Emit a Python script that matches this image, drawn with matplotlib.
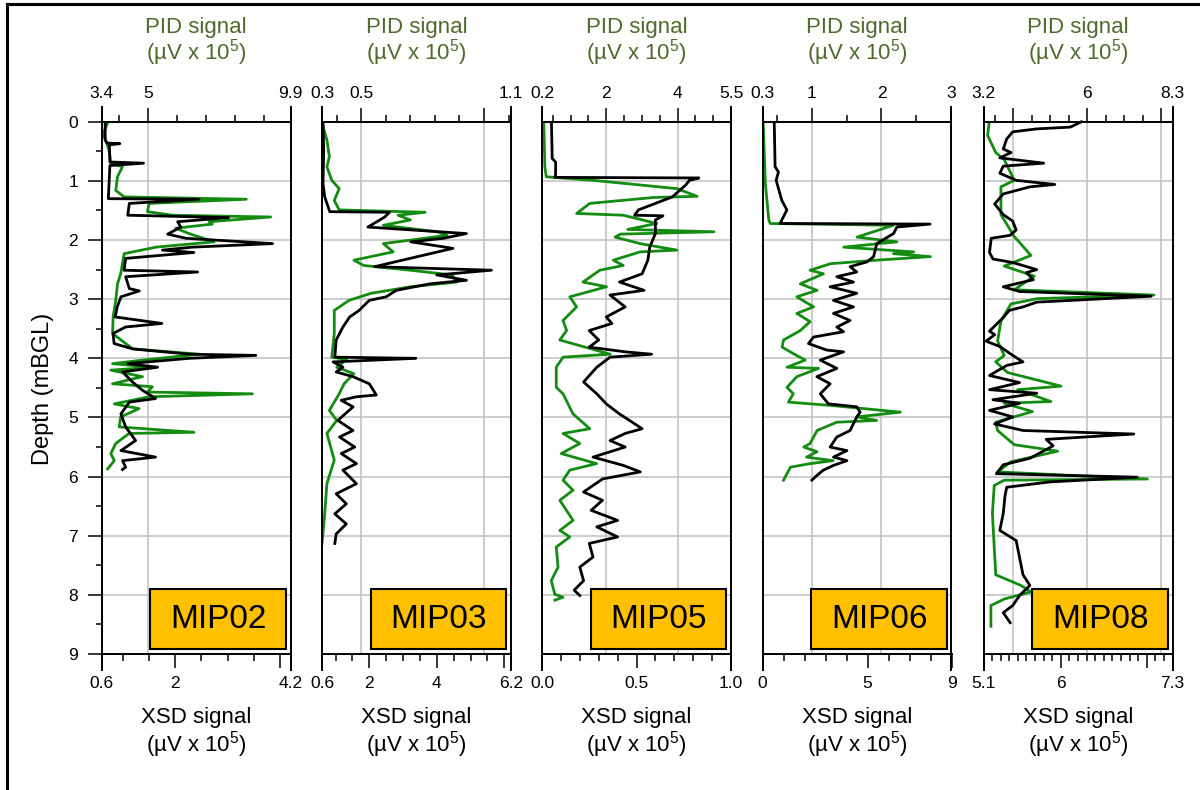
import numpy as np
import matplotlib
matplotlib.use("Agg")
import matplotlib.pyplot as plt
from matplotlib.patches import Rectangle
from matplotlib.lines import Line2D
from matplotlib.ticker import FixedLocator, FixedFormatter

plt.rcParams['font.family'] = ['Liberation Sans', 'DejaVu Sans']
plt.rcParams['mathtext.fontset'] = 'custom'
plt.rcParams['mathtext.rm'] = 'Liberation Sans'

# ---------------- data (depth in mBGL, signal in uV x 1e5) ----------------
names = ['MIP02', 'MIP03', 'MIP05', 'MIP06', 'MIP08']

# MIP02
mip02_xsd_depth = [0.02, 0.31, 0.36, 0.37, 0.39, 0.68, 0.70, 0.74, 0.93, 1.30, 1.31, 1.38, 1.58, 1.62, 1.69, 1.78, 1.90, 1.97,
                   2.06, 2.12, 2.17, 2.21, 2.31, 2.51, 2.54, 2.62, 2.82, 2.86, 2.96, 3.13, 3.30, 3.41, 3.47, 3.58, 3.75, 3.84,
                   3.93, 3.95, 4.00, 4.09, 4.15, 4.23, 4.40, 4.54, 4.68, 4.74, 4.94, 5.16, 5.39, 5.56, 5.67, 5.73, 5.84, 5.88]
mip02_xsd = [0.67, 0.67, 0.71, 0.95, 0.75, 0.76, 1.40, 0.76, 0.75, 0.73, 2.46, 1.13, 1.10, 3.02, 2.05, 2.11, 1.86, 2.21,
             3.86, 2.33, 1.76, 2.36, 1.06, 1.03, 2.43, 1.06, 1.13, 1.32, 0.97, 0.90, 0.86, 1.75, 1.06, 0.82, 0.84, 1.19,
             2.27, 3.54, 2.27, 1.10, 1.67, 1.00, 1.19, 1.38, 1.63, 1.13, 0.97, 1.06, 1.25, 0.97, 1.63, 1.00, 1.06, 1.00]
mip02_pid_depth = [0.02, 0.20, 0.48, 0.70, 0.76, 0.93, 1.16, 1.27, 1.31, 1.38, 1.52, 1.58, 1.61, 1.69, 1.73, 1.80, 1.89, 2.03,
                   2.12, 2.23, 2.57, 2.74, 3.02, 3.30, 3.58, 3.84, 3.93, 4.03, 4.09, 4.15, 4.20, 4.31, 4.43, 4.48, 4.57, 4.60,
                   4.65, 4.77, 4.85, 4.99, 5.16, 5.25, 5.27, 5.44, 5.61, 5.73, 5.87]
mip02_pid = [3.61, 3.46, 3.66, 3.72, 4.12, 3.95, 3.89, 4.18, 8.38, 5.04, 4.98, 5.84, 9.22, 7.10, 7.21, 5.95, 6.41, 7.27,
             5.27, 4.18, 4.06, 3.95, 3.89, 3.80, 3.78, 4.47, 6.76, 4.81, 3.78, 5.15, 3.72, 4.81, 3.78, 5.15, 4.98, 8.59,
             5.04, 3.84, 4.69, 4.06, 4.01, 6.58, 4.35, 3.89, 3.72, 3.84, 3.61]

# MIP03
mip03_xsd_depth = [0.02, 0.48, 1.04, 1.27, 1.52, 1.53, 1.61, 1.78, 1.89, 1.97, 2.03, 2.14, 2.45, 2.51, 2.59, 2.68, 2.74,
                   2.85, 2.96, 3.02, 3.19, 3.30, 3.47, 3.69, 3.98, 4.00, 4.06, 4.15, 4.23, 4.31, 4.43, 4.62, 4.65, 4.71,
                   4.82, 5.05, 5.22, 5.33, 5.50, 5.61, 5.78, 5.89, 6.12, 6.29, 6.46, 6.63, 6.80, 6.97, 7.13]
mip03_xsd = [0.63, 0.65, 0.63, 0.68, 0.83, 2.60, 2.46, 1.96, 4.88, 4.20, 3.23, 4.48, 2.16, 5.62, 4.00, 4.88, 3.80,
             2.80, 2.50, 2.00, 1.70, 1.42, 1.22, 1.02, 0.98, 3.38, 0.93, 1.22, 1.02, 1.52, 2.00, 2.21, 1.62, 1.17,
             1.52, 1.07, 1.52, 1.12, 1.57, 1.17, 1.62, 1.22, 1.62, 1.02, 1.32, 0.98, 1.32, 1.02, 0.98]
mip03_pid_depth = [0.02, 0.31, 0.59, 0.76, 0.99, 1.13, 1.33, 1.49, 1.53, 1.58, 1.66, 1.75, 1.86, 1.92, 2.06, 2.20, 2.34,
                   2.43, 2.51, 2.59, 2.71, 2.79, 2.90, 3.02, 3.19, 3.58, 3.98, 4.02, 4.15, 4.26, 4.43, 4.60, 4.88, 5.05,
                   5.27, 5.72, 6.12, 6.68, 7.13]
mip03_pid = [0.34, 0.36, 0.37, 0.36, 0.38, 0.41, 0.39, 0.41, 0.76, 0.65, 0.70, 0.59, 0.81, 0.85, 0.59, 0.63, 0.47,
             0.51, 0.70, 0.87, 0.89, 0.70, 0.54, 0.45, 0.39, 0.39, 0.38, 0.44, 0.40, 0.47, 0.43, 0.41, 0.37, 0.40,
             0.36, 0.39, 0.36, 0.35, 0.34]

# MIP05
mip05_xsd_depth = [0.02, 0.62, 0.68, 0.90, 0.94, 0.95, 0.99, 1.07, 1.27, 1.49, 1.58, 1.59, 1.66, 1.89, 2.12, 2.34, 2.57,
                   2.71, 2.85, 2.93, 3.13, 3.30, 3.41, 3.53, 3.69, 3.81, 3.89, 3.93, 3.98, 4.15, 4.40, 4.60, 4.77, 4.94,
                   5.19, 5.27, 5.39, 5.50, 5.67, 5.81, 5.92, 6.04, 6.26, 6.40, 6.57, 6.74, 6.85, 7.02, 7.13, 7.36, 7.53,
                   7.76, 7.92, 8.01]
mip05_xsd = [0.05, 0.054, 0.072, 0.072, 0.067, 0.83, 0.78, 0.76, 0.69, 0.51, 0.49, 0.64, 0.60, 0.60, 0.57, 0.56, 0.53,
             0.41, 0.54, 0.36, 0.44, 0.34, 0.37, 0.25, 0.30, 0.25, 0.44, 0.58, 0.36, 0.29, 0.22, 0.29, 0.34, 0.41,
             0.53, 0.44, 0.36, 0.44, 0.27, 0.43, 0.52, 0.32, 0.22, 0.32, 0.26, 0.40, 0.29, 0.40, 0.25, 0.27, 0.20,
             0.22, 0.17, 0.20]
mip05_pid_depth = [0.02, 0.76, 0.93, 0.99, 1.13, 1.26, 1.28, 1.38, 1.55, 1.58, 1.72, 1.82, 1.86, 1.90, 1.95, 2.06, 2.17,
                   2.20, 2.34, 2.43, 2.51, 2.71, 2.79, 2.96, 3.13, 3.36, 3.53, 3.69, 3.93, 3.98, 4.15, 4.49, 4.60, 4.94,
                   5.19, 5.27, 5.44, 5.61, 5.78, 5.89, 6.06, 6.23, 6.40, 6.74, 6.91, 7.02, 7.19, 7.53, 7.76, 7.99, 8.04,
                   8.09]
mip05_pid = [0.25, 0.28, 0.32, 1.64, 3.98, 4.55, 3.33, 1.54, 1.17, 2.48, 3.42, 2.60, 5.02, 2.40, 2.25, 2.95, 3.98,
             2.95, 2.20, 2.48, 1.82, 1.35, 2.01, 0.98, 1.17, 0.79, 0.89, 0.70, 2.11, 0.79, 0.60, 0.60, 0.79, 1.07,
             1.54, 0.79, 1.26, 0.74, 1.73, 0.98, 0.79, 1.07, 0.70, 1.07, 0.70, 0.98, 0.60, 0.65, 0.46, 0.56, 0.79,
             0.56]

# MIP06
mip06_xsd_depth = [0.02, 0.76, 0.85, 0.99, 1.13, 1.33, 1.49, 1.66, 1.72, 1.73, 1.78, 1.89, 2.06, 2.28, 2.37, 2.45, 2.54,
                   2.62, 2.71, 2.79, 2.90, 3.02, 3.13, 3.24, 3.36, 3.47, 3.55, 3.64, 3.75, 3.86, 3.89, 4.03, 4.17, 4.31,
                   4.43, 4.60, 4.77, 4.82, 4.91, 4.99, 5.22, 5.33, 5.50, 5.56, 5.67, 5.73, 5.81, 5.89, 5.98, 6.06]
mip06_xsd = [0.56, 0.60, 0.76, 0.65, 0.76, 0.92, 1.16, 0.92, 0.84, 7.98, 6.40, 6.24, 5.44, 5.29, 4.97, 4.17, 4.49,
             3.54, 4.33, 3.22, 4.49, 3.38, 4.33, 3.38, 4.17, 3.54, 3.86, 2.43, 2.19, 3.06, 3.86, 2.75, 3.54, 2.59,
             3.22, 2.75, 3.14, 4.49, 4.65, 4.49, 4.17, 3.54, 3.22, 4.02, 3.38, 4.02, 3.38, 2.90, 2.59, 2.35]
mip06_pid_depth = [0.02, 1.04, 1.66, 1.72, 1.75, 1.95, 2.03, 2.12, 2.20, 2.23, 2.28, 2.34, 2.40, 2.51, 2.57, 2.74, 2.85,
                   2.96, 3.13, 3.24, 3.38, 3.53, 3.69, 3.81, 3.92, 4.03, 4.15, 4.17, 4.31, 4.49, 4.60, 4.74, 4.80, 4.91,
                   4.99, 5.05, 5.08, 5.22, 5.44, 5.50, 5.58, 5.67, 5.73, 5.78, 5.84, 6.06]
mip06_pid = [0.31, 0.34, 0.39, 0.41, 2.17, 1.65, 2.22, 1.46, 2.46, 2.17, 2.70, 1.93, 1.27, 0.98, 1.17, 0.84, 1.08,
             0.79, 1.03, 0.79, 0.98, 0.84, 0.60, 0.58, 0.74, 0.91, 0.65, 1.10, 0.79, 0.65, 0.74, 0.67, 1.31, 2.27,
             1.65, 1.93, 1.36, 1.08, 0.98, 0.89, 1.08, 0.93, 1.31, 0.98, 0.70, 0.60]

# MIP08
mip08_xsd_depth = [0.00, 0.09, 0.12, 0.17, 0.29, 0.46, 0.52, 0.61, 0.70, 0.75, 0.87, 0.99, 1.06, 1.10, 1.22, 1.39, 1.57,
                   1.68, 1.83, 1.92, 1.97, 2.21, 2.32, 2.38, 2.50, 2.55, 2.67, 2.79, 2.87, 2.95, 3.05, 3.13, 3.19, 3.31,
                   3.54, 3.60, 3.71, 3.80, 3.95, 4.06, 4.12, 4.29, 4.41, 4.53, 4.59, 4.70, 4.76, 4.88, 4.99, 5.11, 5.22,
                   5.28, 5.37, 5.48, 5.69, 5.80, 5.95, 6.01, 6.09, 6.18, 6.33, 6.62, 6.91, 7.08, 7.37, 7.66, 7.84, 8.01,
                   8.18, 8.30, 8.47]
mip08_xsd = [6.24, 6.11, 5.72, 5.44, 5.37, 5.33, 5.42, 5.29, 5.80, 5.33, 5.29, 5.48, 5.93, 5.64, 5.33, 5.23, 5.33,
             5.44, 5.48, 5.41, 5.19, 5.17, 5.21, 5.44, 5.72, 5.60, 5.68, 5.33, 5.52, 7.05, 5.72, 5.56, 5.40, 5.33,
             5.17, 5.23, 5.13, 5.29, 5.44, 5.56, 5.37, 5.17, 5.52, 5.17, 5.72, 5.21, 5.52, 5.17, 5.44, 5.23, 5.56,
             6.85, 5.83, 5.91, 5.64, 5.33, 5.25, 6.89, 5.87, 5.37, 5.35, 5.33, 5.29, 5.48, 5.52, 5.56, 5.64, 5.52,
             5.44, 5.33, 5.41]
mip08_pid_depth = [0.03, 0.23, 0.52, 0.64, 0.99, 1.10, 1.57, 1.94, 2.26, 2.44, 2.61, 2.84, 2.93, 2.99, 3.08, 3.37, 3.71,
                   3.95, 4.06, 4.24, 4.47, 4.53, 4.73, 4.76, 4.90, 5.08, 5.22, 5.46, 5.57, 5.75, 5.92, 6.04, 6.06, 6.15,
                   6.62, 7.20, 7.66, 7.84, 7.95, 8.07, 8.18, 8.53]
mip08_pid = [3.35, 3.31, 3.53, 3.76, 4.03, 3.67, 3.67, 4.03, 4.48, 3.76, 4.57, 4.03, 7.80, 4.66, 3.94, 3.67, 3.58,
             3.76, 3.53, 3.85, 5.29, 4.12, 5.02, 3.76, 4.52, 3.53, 3.58, 4.03, 5.20, 3.94, 3.58, 7.62, 3.76, 3.49,
             3.44, 3.49, 3.53, 4.21, 4.48, 3.76, 3.40, 3.40]

xsd_depths = [mip02_xsd_depth, mip03_xsd_depth, mip05_xsd_depth, mip06_xsd_depth, mip08_xsd_depth]
xsd_values = [mip02_xsd, mip03_xsd, mip05_xsd, mip06_xsd, mip08_xsd]
pid_depths = [mip02_pid_depth, mip03_pid_depth, mip05_pid_depth, mip06_pid_depth, mip08_pid_depth]
pid_values = [mip02_pid, mip03_pid, mip05_pid, mip06_pid, mip08_pid]

# axis ranges and ticks (top = PID, bottom = XSD)
pid_lims = [(3.4, 9.9), (0.34, 1.11), (0.2, 5.5), (0.3, 3.0), (3.2, 8.3)]
pid_majors = [[5], [0.5, 1.0], [2, 4], [1, 2], [4, 6, 8]]
pid_major_labels = [['5'], ['0.5', ''], ['2', '4'], ['1', '2'], ['', '6', '']]
pid_end_labels = [('3.4', '9.9'), ('0.3', '1.1'), ('0.2', '5.5'), ('0.3', '3'), ('3.2', '8.3')]
pid_minor = [1.0, 0.1, 0.5, 0.5, 0.5]

xsd_lims = [(0.6, 4.2), (0.6, 6.2), (0.0, 1.0), (0.0, 9.0), (5.1, 7.3)]
xsd_majors = [[2, 4], [2, 4, 6], [0.5], [5], [6, 7]]
xsd_major_labels = [['2', ''], ['2', '4', ''], ['0.5'], ['5'], ['6', '']]
xsd_end_labels = [('0.6', '4.2'), ('0.6', '6.2'), ('0.0', '1.0'), ('0', '9'), ('5.1', '7.3')]
xsd_minor = [0.5, 0.5, 0.1, 1.0, 0.1]

# ---------------- layout ----------------
W, H = 1200, 790
lefts = [101.5, 322, 542, 762.5, 983.5]
pw = 189
ax_top, ax_bot = 107, 670

green = '#148c12'
green_txt = '#4f6a2c'
grid_c = '#c4c4c4'
box_c = '#ffc000'

fig = plt.figure(figsize=(12, 7.9), dpi=100)


def minor_locs(lo, hi, step):
    start = np.ceil(lo / step - 1e-6) * step
    return [v for v in np.arange(start, hi + 1e-9, step) if lo + 1e-6 < v < hi - 1e-6]


for i in range(5):
    ax = fig.add_axes([lefts[i] / W, 1 - ax_bot / H, pw / W, (ax_bot - ax_top) / H])
    ax2 = ax.twiny()
    ax.set_ylim(9.27, -0.25)

    # ax -> top PID scale
    lo, hi = pid_lims[i]
    ax.set_xlim(lo, hi)
    ax.xaxis.set_ticks_position('top')
    ax.spines['top'].set_position(('data', 0))
    ax.spines['bottom'].set_visible(False)
    locs = [lo] + pid_majors[i] + [hi]
    labs = [pid_end_labels[i][0]] + pid_major_labels[i] + [pid_end_labels[i][1]]
    ax.xaxis.set_major_locator(FixedLocator(locs))
    ax.xaxis.set_major_formatter(FixedFormatter(labs))
    ax.xaxis.set_minor_locator(FixedLocator(minor_locs(lo, hi, pid_minor[i])))
    ax.tick_params(axis='x', which='major', direction='out', length=10, width=1.1, labelsize=12.5, pad=5)
    ax.tick_params(axis='x', which='minor', direction='out', length=5, width=1.1)

    # ax2 -> bottom XSD scale
    lo2, hi2 = xsd_lims[i]
    ax2.set_xlim(lo2, hi2)
    ax2.xaxis.set_ticks_position('bottom')
    ax2.spines['bottom'].set_position(('data', 9))
    for s in ['top', 'left', 'right']:
        ax2.spines[s].set_visible(False)
    locs2 = [lo2] + xsd_majors[i] + [hi2]
    labs2 = [xsd_end_labels[i][0]] + xsd_major_labels[i] + [xsd_end_labels[i][1]]
    ax2.xaxis.set_major_locator(FixedLocator(locs2))
    ax2.xaxis.set_major_formatter(FixedFormatter(labs2))
    ax2.xaxis.set_minor_locator(FixedLocator(minor_locs(lo2, hi2, xsd_minor[i])))
    ax2.tick_params(axis='x', which='major', direction='out', length=10, width=1.1, labelsize=12.5, pad=6)
    ax2.tick_params(axis='x', which='minor', direction='out', length=5, width=1.1)

    for s in ax.spines.values():
        s.set_linewidth(1.4)
    for s in ax2.spines.values():
        s.set_linewidth(1.4)

    # depth axis
    if i == 0:
        ax.set_yticks(range(0, 10))
        ax.set_yticks(np.arange(0.5, 9, 1.0), minor=True)
        ax.tick_params(axis='y', which='major', direction='out', length=10, width=1.1, labelsize=12.5, pad=7)
        ax.tick_params(axis='y', which='minor', direction='out', length=4.5, width=1.1)
        ax.set_ylabel('Depth (mBGL)', fontsize=17, labelpad=10)
    else:
        ax.set_yticks([])

    # grid
    ax.hlines(range(1, 9), lo, hi, color=grid_c, lw=1.2, zorder=0.5)
    ax.vlines(pid_majors[i], 0, 9, color=grid_c, lw=1.2, zorder=0.5)

    # curves
    ax.plot(pid_values[i], pid_depths[i], color=green, lw=2.0, zorder=2)
    ax2.plot(xsd_values[i], xsd_depths[i], color='black', lw=2.0, zorder=2)

    # name box
    ax2.add_patch(Rectangle((0.257, 0.037), 0.719, 0.107, transform=ax2.transAxes,
                            facecolor=box_c, edgecolor='black', lw=1.5, zorder=5))
    ax2.text(0.6165, 0.0905, names[i], transform=ax2.transAxes, ha='center', va='center',
             fontsize=24, zorder=6)

    cx = (lefts[i] + pw / 2) / W
    fig.text(cx, 1 - 27 / H, 'PID signal', color=green_txt, fontsize=16, ha='center', va='center')
    fig.text(cx, 1 - 53 / H, r'(µV x 10$^5$)', color=green_txt, fontsize=16, ha='center', va='center')
    fig.text(cx, 1 - 718 / H, 'XSD signal', color='black', fontsize=16, ha='center', va='center')
    fig.text(cx, 1 - 745 / H, r'(µV x 10$^5$)', color='black', fontsize=16, ha='center', va='center')

# outer frame (top and left edges visible)
fig.add_artist(Line2D([7 / W, 1.0], [1 - 4 / H, 1 - 4 / H], transform=fig.transFigure, color='black', lw=2.2))
fig.add_artist(Line2D([7 / W, 7 / W], [0, 1 - 4 / H], transform=fig.transFigure, color='black', lw=2.2))

fig.savefig('out.png', dpi=100)
